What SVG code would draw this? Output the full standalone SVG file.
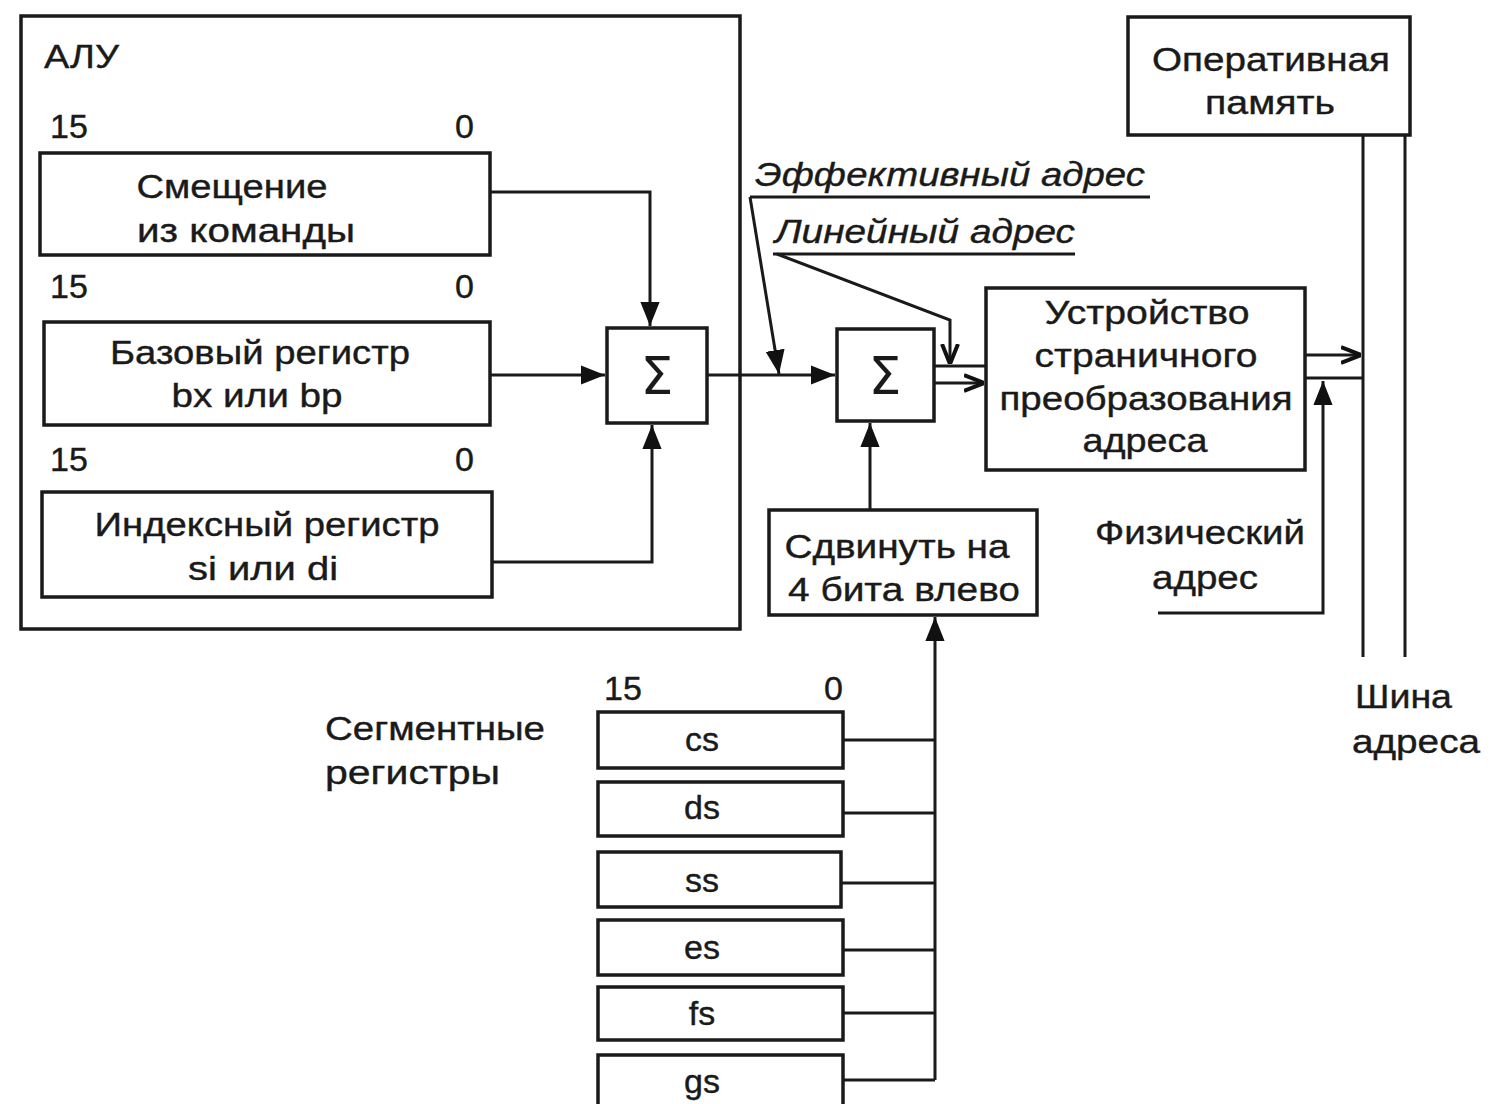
<svg xmlns="http://www.w3.org/2000/svg" width="1492" height="1104" viewBox="0 0 1492 1104">
<defs>
<marker id="ah" viewBox="0 0 10 10" refX="10" refY="5" markerWidth="9" markerHeight="9" markerUnits="userSpaceOnUse" orient="auto"><path d="M0,0 L10,5 L0,10 z" fill="#111"/></marker>
<marker id="ab" viewBox="0 0 10 10" refX="10" refY="5" markerWidth="24" markerHeight="24" markerUnits="userSpaceOnUse" orient="auto"><path d="M0,1 L10,5 L0,9 z" fill="#111"/></marker>
<marker id="ao" viewBox="0 0 10 10" refX="10" refY="5" markerWidth="20" markerHeight="20" markerUnits="userSpaceOnUse" orient="auto"><path d="M0,1 L10,5 L0,9" fill="none" stroke="#111" stroke-width="2"/></marker>
</defs>
<style>
.b{fill:#fff;stroke:#1a1a1a;stroke-width:3.5}
.t{font-family:"Liberation Sans",Arial,sans-serif;font-size:34px;fill:#1a1a1a;stroke:#1a1a1a;stroke-width:0.4}
.m{text-anchor:middle}
.i{font-style:italic}
.s{font-family:"DejaVu Sans","Liberation Sans",sans-serif;font-size:52px;fill:#1a1a1a;text-anchor:middle}
.c line,.c polyline,.c path{stroke:#1a1a1a;stroke-width:3;fill:none}
</style>
<rect width="1492" height="1104" fill="#fff"/>
<g id="alu">
<rect class="b" x="21" y="16" width="719" height="613"/>
<text class="t" x="44" y="68" textLength="75" lengthAdjust="spacingAndGlyphs">АЛУ</text>
</g>
<g id="disp">
<text class="t" x="50" y="138">15</text><text class="t" x="455" y="138">0</text>
<rect class="b" x="40" y="153" width="450" height="102"/>
<text class="t m" x="232" y="198" textLength="191" lengthAdjust="spacingAndGlyphs">Смещение</text>
<text class="t m" x="246" y="242" textLength="218" lengthAdjust="spacingAndGlyphs">из  команды</text>
</g>
<g id="base">
<text class="t" x="50" y="298">15</text><text class="t" x="455" y="298">0</text>
<rect class="b" x="44" y="322" width="446" height="103"/>
<text class="t m" x="260" y="364" textLength="300" lengthAdjust="spacingAndGlyphs">Базовый регистр</text>
<text class="t m" x="257" y="407" textLength="171" lengthAdjust="spacingAndGlyphs">bx или bp</text>
</g>
<g id="index">
<text class="t" x="50" y="471">15</text><text class="t" x="455" y="471">0</text>
<rect class="b" x="42" y="492" width="450" height="105"/>
<text class="t m" x="267" y="536" textLength="345" lengthAdjust="spacingAndGlyphs">Индексный регистр</text>
<text class="t m" x="263" y="580" textLength="150" lengthAdjust="spacingAndGlyphs">si или di</text>
</g>
<g id="sum1">
<rect class="b" x="607" y="328" width="100" height="95"/>
<text class="s" x="657" y="394">Σ</text>
</g>
<g id="sum2">
<rect class="b" x="837" y="329" width="97" height="92"/>
<text class="s" x="885" y="394">Σ</text>
</g>
<g id="paging">
<rect class="b" x="986" y="288" width="319" height="182"/>
<text class="t m" x="1147" y="324" textLength="205" lengthAdjust="spacingAndGlyphs">Устройство</text>
<text class="t m" x="1146" y="367" textLength="223" lengthAdjust="spacingAndGlyphs">страничного</text>
<text class="t m" x="1146" y="410" textLength="293" lengthAdjust="spacingAndGlyphs">преобразования</text>
<text class="t m" x="1145" y="452" textLength="125" lengthAdjust="spacingAndGlyphs">адреса</text>
</g>
<g id="ram">
<rect class="b" x="1128" y="17" width="282" height="118"/>
<text class="t m" x="1271" y="71" textLength="238" lengthAdjust="spacingAndGlyphs">Оперативная</text>
<text class="t m" x="1270" y="114" textLength="130" lengthAdjust="spacingAndGlyphs">память</text>
</g>
<g id="shift">
<rect class="b" x="769" y="510" width="268" height="105"/>
<text class="t m" x="897" y="558" textLength="225" lengthAdjust="spacingAndGlyphs">Сдвинуть на</text>
<text class="t m" x="904" y="601" textLength="232" lengthAdjust="spacingAndGlyphs">4 бита влево</text>
</g>
<g id="segregs">
<text class="t" x="325" y="740" textLength="220" lengthAdjust="spacingAndGlyphs">Сегментные</text>
<text class="t" x="325" y="784" textLength="175" lengthAdjust="spacingAndGlyphs">регистры</text>
<text class="t" x="604" y="700">15</text><text class="t" x="824" y="700">0</text>
<rect class="b" x="598" y="712" width="245" height="56"/>
<text class="t m" x="702" y="751">cs</text>
<rect class="b" x="598" y="782" width="245" height="54"/>
<text class="t m" x="702" y="819">ds</text>
<rect class="b" x="598" y="852" width="243" height="55"/>
<text class="t m" x="702" y="892">ss</text>
<rect class="b" x="598" y="920" width="245" height="55"/>
<text class="t m" x="702" y="959">es</text>
<rect class="b" x="598" y="987" width="245" height="53"/>
<text class="t m" x="702" y="1025">fs</text>
<rect class="b" x="598" y="1055" width="245" height="52"/>
<text class="t m" x="702" y="1093">gs</text>
</g>
<g id="labels">
<text class="t i" x="755" y="186" textLength="390" lengthAdjust="spacingAndGlyphs">Эффективный адрес</text>
<text class="t i" x="775" y="243" textLength="300" lengthAdjust="spacingAndGlyphs">Линейный адрес</text>
<text class="t m" x="1200" y="544" textLength="210" lengthAdjust="spacingAndGlyphs">Физический</text>
<text class="t m" x="1205" y="589" textLength="106" lengthAdjust="spacingAndGlyphs">адрес</text>
<text class="t" x="1355" y="708" textLength="97" lengthAdjust="spacingAndGlyphs">Шина</text>
<text class="t" x="1352" y="753" textLength="128" lengthAdjust="spacingAndGlyphs">адреса</text>
</g>
<g id="connectors" class="c">
<polyline points="490,192 650,192 650,326" marker-end="url(#ab)"/>
<line x1="490" y1="375" x2="605" y2="375" marker-end="url(#ab)"/>
<polyline points="492,562 652,562 652,425" marker-end="url(#ab)"/>
<line x1="707" y1="375" x2="835" y2="375" marker-end="url(#ab)"/>
<line x1="750" y1="197" x2="1150" y2="197"/>
<line x1="750" y1="197" x2="779" y2="374" marker-end="url(#ab)"/>
<line x1="773" y1="254" x2="1075" y2="254"/>
<polyline points="777,254 950,320 950,364" marker-end="url(#ao)"/>
<line x1="934" y1="366" x2="986" y2="366"/>
<line x1="934" y1="383" x2="984" y2="383" marker-end="url(#ao)"/>
<line x1="870" y1="510" x2="870" y2="423" marker-end="url(#ab)"/>
<line x1="935" y1="1080" x2="935" y2="617" marker-end="url(#ab)"/>
<line x1="843" y1="740" x2="935" y2="740"/>
<line x1="843" y1="813" x2="935" y2="813"/>
<line x1="841" y1="883" x2="935" y2="883"/>
<line x1="843" y1="950" x2="935" y2="950"/>
<line x1="843" y1="1013" x2="935" y2="1013"/>
<line x1="843" y1="1080" x2="935" y2="1080"/>
<line x1="1363" y1="135" x2="1363" y2="657"/>
<line x1="1405" y1="135" x2="1405" y2="657"/>
<line x1="1305" y1="355" x2="1361" y2="355" marker-end="url(#ao)"/>
<line x1="1305" y1="378" x2="1363" y2="378"/>
<polyline points="1158,613 1323,613 1323,381" marker-end="url(#ab)"/>
</g>
</svg>
